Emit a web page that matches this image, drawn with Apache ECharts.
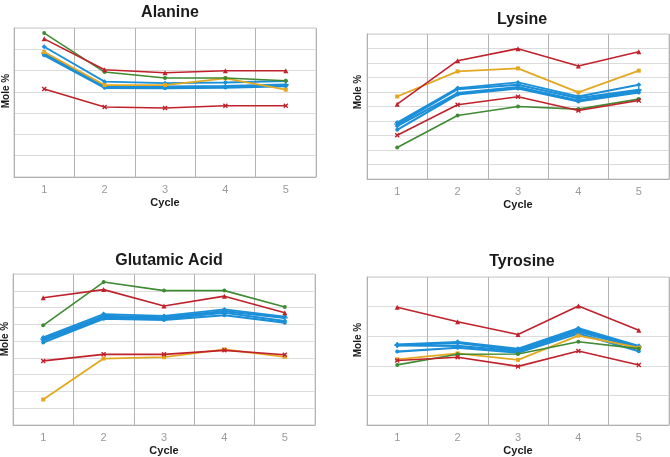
<!DOCTYPE html>
<html>
<head>
<meta charset="utf-8">
<script src="https://cdn.jsdelivr.net/npm/echarts@6/dist/echarts.min.js"></script>
<style>
html,body{margin:0;padding:0;background:#fff;}
#chart{width:670px;height:457px;}
</style>
</head>
<body>
<div id="chart"></div>
<script>
// ---- data ----
const cycles = ['1', '2', '3', '4', '5'];
const panelTitles = ['Alanine', 'Lysine', 'Glutamic Acid', 'Tyrosine'];
const yMax = [7, 10, 9, 5];

// Alanine
const alaRedTri = [6.49, 5.04, 4.90, 4.99, 4.99];
const alaRedX   = [4.13, 3.29, 3.24, 3.35, 3.35];
const alaGreen  = [6.76, 4.93, 4.65, 4.65, 4.52];
const alaYellow = [5.87, 4.32, 4.32, 4.63, 4.10];
const alaBlue1  = [6.12, 4.48, 4.41, 4.44, 4.51];
const alaBlue2  = [5.82, 4.27, 4.25, 4.27, 4.34];
const alaBlue3  = [5.76, 4.23, 4.21, 4.24, 4.30];
const alaBlue4  = [5.72, 4.19, 4.17, 4.20, 4.27];

// Lysine
const lysRedTri = [5.16, 8.16, 8.99, 7.79, 8.78];
const lysRedX   = [3.02, 5.12, 5.67, 4.72, 5.41];
const lysGreen  = [2.17, 4.38, 5.00, 4.82, 5.51];
const lysYellow = [5.69, 7.42, 7.63, 5.97, 7.47];
const lysBlue1  = [3.89, 6.27, 6.66, 5.69, 6.50];
const lysBlue2  = [3.78, 6.20, 6.50, 5.58, 6.15];
const lysBlue3  = [3.66, 5.92, 6.34, 5.41, 6.11];
const lysBlue4  = [3.39, 5.83, 6.24, 5.35, 5.97];

// Glutamic Acid
const gluRedTri = [7.58, 8.07, 7.09, 7.68, 6.69];
const gluRedX   = [3.82, 4.21, 4.21, 4.45, 4.19];
const gluGreen  = [5.94, 8.52, 8.01, 8.01, 7.03];
const gluYellow = [1.52, 3.96, 4.04, 4.51, 4.06];
const gluBlue1  = [5.22, 6.61, 6.50, 6.89, 6.46];
const gluBlue2  = [5.12, 6.50, 6.42, 6.79, 6.38];
const gluBlue3  = [5.06, 6.40, 6.34, 6.69, 6.20];
const gluBlue4  = [4.92, 6.34, 6.26, 6.54, 6.10];

// Tyrosine
const tyrRedTri = [3.98, 3.49, 3.06, 4.02, 3.20];
const tyrRedX   = [2.18, 2.29, 1.98, 2.50, 2.03];
const tyrGreen  = [2.03, 2.39, 2.40, 2.81, 2.58];
const tyrYellow = [2.22, 2.42, 2.20, 3.02, 2.61];
const tyrBlue1  = [2.72, 2.81, 2.58, 3.27, 2.67];
const tyrBlue2  = [2.70, 2.77, 2.53, 3.22, 2.64];
const tyrBlue3  = [2.69, 2.67, 2.49, 3.16, 2.60];
const tyrBlue4  = [2.48, 2.61, 2.44, 3.09, 2.49];

const panelData = [
  [alaBlue4, alaBlue3, alaBlue2, alaBlue1, alaYellow, alaGreen, alaRedX, alaRedTri],
  [lysBlue4, lysBlue3, lysBlue2, lysBlue1, lysYellow, lysGreen, lysRedX, lysRedTri],
  [gluBlue4, gluBlue3, gluBlue2, gluBlue1, gluYellow, gluGreen, gluRedX, gluRedTri],
  [tyrBlue4, tyrBlue3, tyrBlue2, tyrBlue1, tyrYellow, tyrGreen, tyrRedX, tyrRedTri]
];

// ---- styles ----
const RED = '#c0222c', GREEN = '#3f8a33', YELLOW = '#e3a821', BLUE = '#1b8fd8';
const X_PATH = 'path://M0,2L2,0L5,3L8,0L10,2L7,5L10,8L8,10L5,7L2,10L0,8L3,5Z';
const PLUS_PATH = 'path://M4,0H6V4H10V6H6V10H4V6H0V4H4Z';
const seriesStyles = [
  {color: BLUE, symbol: 'circle', width: 2.2, size: 4},
  {color: BLUE, symbol: 'diamond', width: 2.2, size: 5},
  {color: BLUE, symbol: PLUS_PATH, width: 2.2, size: 6},
  {color: BLUE, symbol: 'diamond', width: 1.8, size: 5},
  {color: YELLOW, symbol: 'rect', width: 1.8, size: 4},
  {color: GREEN, symbol: 'circle', width: 1.6, size: 4},
  {color: RED, symbol: X_PATH, width: 1.6, size: 5},
  {color: RED, symbol: 'triangle', width: 1.6, size: 5}
];

const grids = [
  {left: 14, top: 28, width: 302, height: 149},
  {left: 367, top: 34, width: 302, height: 145},
  {left: 13, top: 274, width: 302, height: 152},
  {left: 367, top: 277, width: 302, height: 150}
];
const titlePos = [
  {x: 165, y: 0}, {x: 517, y: 7}, {x: 164, y: 248}, {x: 517, y: 249}
];
const molePos = [
  {x: 6, y: 91}, {x: 358, y: 92}, {x: 5, y: 339}, {x: 358, y: 340}
];
const FONT = '"Liberation Sans", Arial, sans-serif';

const option = {
  animation: false,
  backgroundColor: '#fff',
  title: panelTitles.map((t, i) => ({
    text: t, left: titlePos[i].x, top: titlePos[i].y, textAlign: 'center',
    textStyle: {fontSize: 16, fontWeight: 'bold', color: '#1a1a1a', fontFamily: FONT}
  })),
  graphic: molePos.map(p => ({
    type: 'text', x: p.x, y: p.y, rotation: Math.PI / 2,
    style: {text: 'Mole %', font: 'bold 10px ' + FONT, fill: '#1a1a1a', align: 'center', verticalAlign: 'middle'}
  })),
  grid: grids.map(g => Object.assign({show: true, borderColor: '#cccccc', borderWidth: 1}, g)),
  xAxis: grids.map((g, i) => ({
    type: 'category', gridIndex: i, data: cycles, boundaryGap: true,
    name: 'Cycle', nameLocation: 'middle', nameGap: 20,
    nameTextStyle: {fontSize: 11, fontWeight: 'bold', color: '#1a1a1a', fontFamily: FONT},
    axisLine: {show: true, lineStyle: {color: '#b0b0b0', width: 1}},
    axisTick: {show: false},
    axisLabel: {color: '#9a9a9a', fontSize: 11, margin: 7, fontFamily: FONT},
    splitLine: {show: true, lineStyle: {color: '#b3b3b3', width: 1}}
  })),
  yAxis: grids.map((g, i) => ({
    type: 'value', gridIndex: i, min: 0, max: yMax[i], interval: 1,
    axisLine: {show: true, lineStyle: {color: '#b0b0b0', width: 1}},
    axisTick: {show: false},
    axisLabel: {show: false},
    splitLine: {show: true, lineStyle: {color: '#dcdcdc', width: 1}}
  })),
  series: []
};

panelData.forEach((list, pi) => {
  list.forEach((data, si) => {
    const st = seriesStyles[si];
    option.series.push({
      type: 'line', xAxisIndex: pi, yAxisIndex: pi, data: data,
      symbol: st.symbol, symbolSize: st.size, showSymbol: true,
      lineStyle: {color: st.color, width: st.width},
      itemStyle: {color: st.color, borderWidth: 0},
      z: 2 + si
    });
  });
});

const chart = echarts.init(document.getElementById('chart'), null, {renderer: 'canvas'});
chart.setOption(option);
</script>
</body>
</html>
